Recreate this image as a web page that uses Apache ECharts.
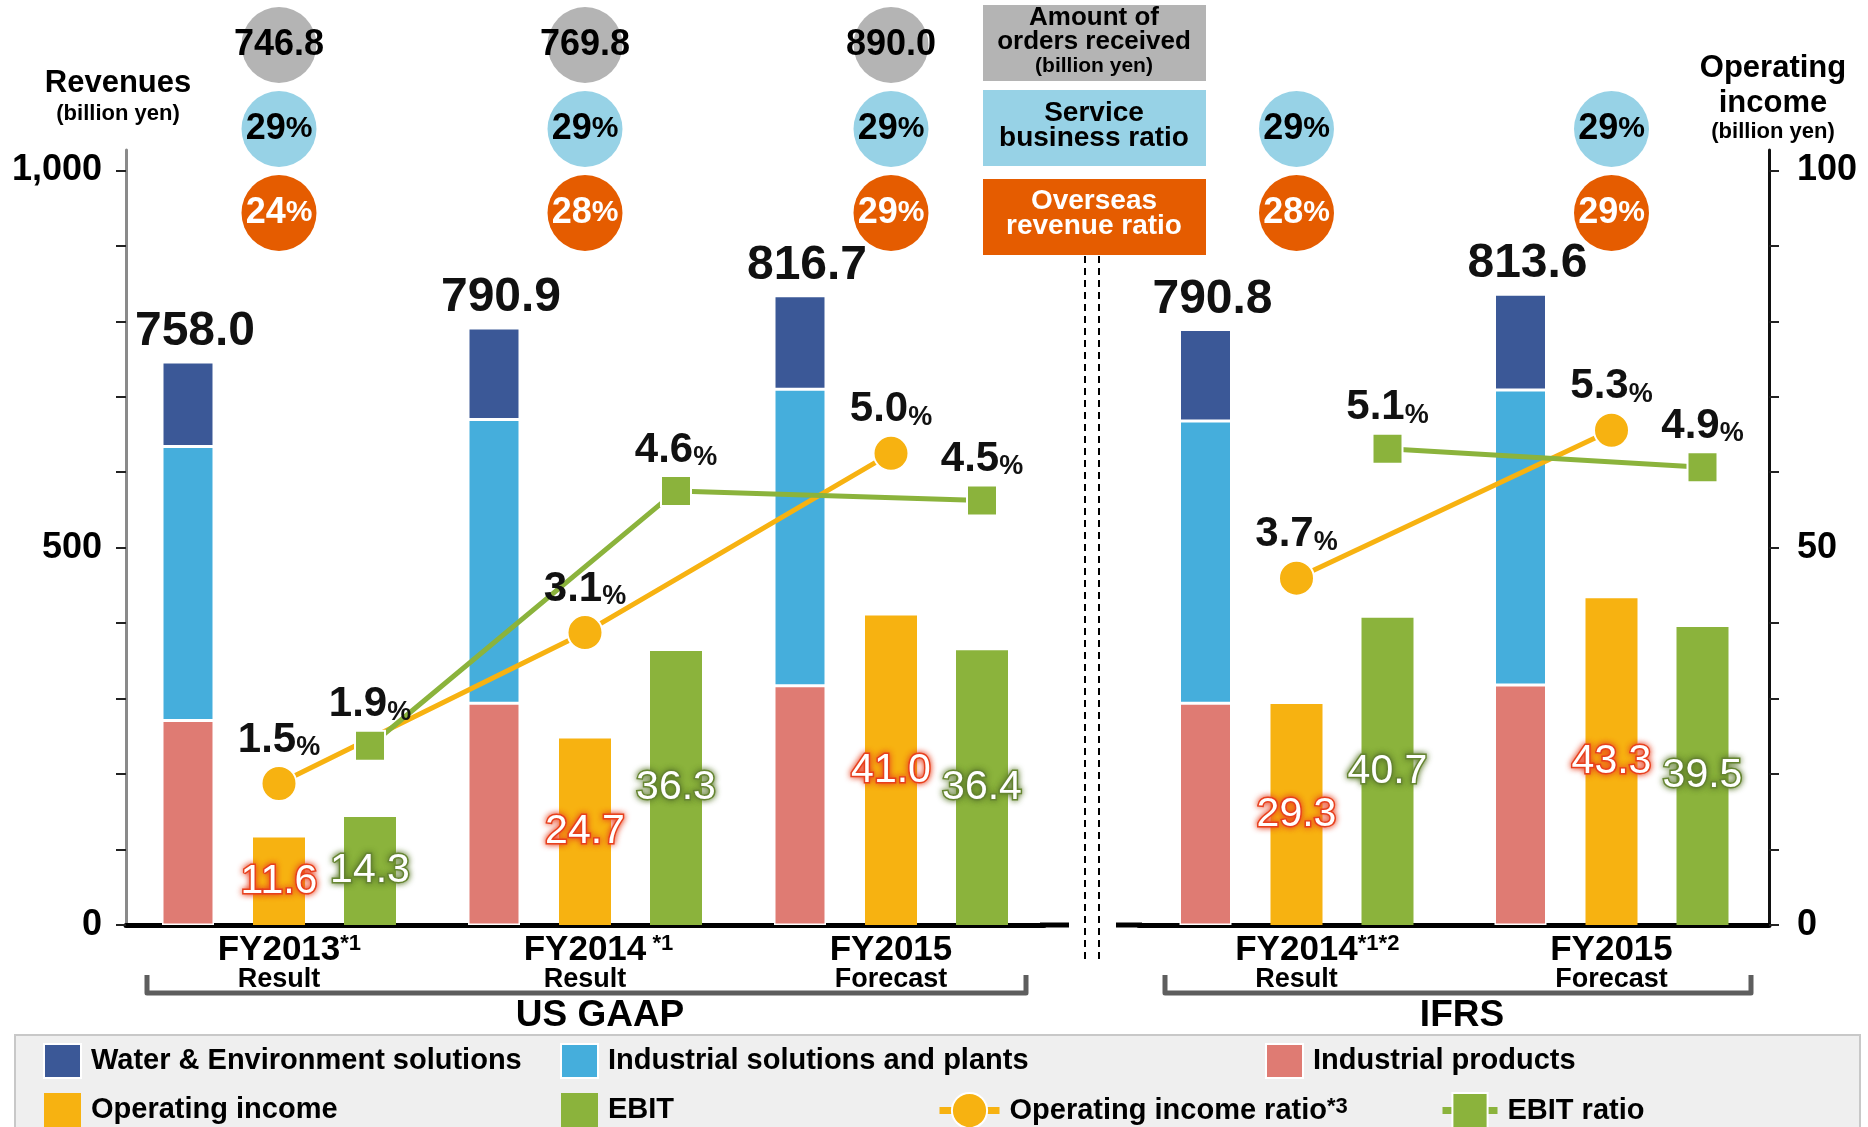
<!DOCTYPE html>
<html lang="en">
<head>
<meta charset="utf-8">
<title>Revenues and operating income</title>
<script src="https://cdn.jsdelivr.net/npm/echarts@6/dist/echarts.min.js"></script>
<style>
  html, body { margin: 0; padding: 0; background: #fff; }
  #chart { width: 1868px; height: 1127px; }
</style>
</head>
<body>
<div id="chart"></div>
<script type="text/javascript">
// ---------- data ----------
var gaapYears = ['FY2013', 'FY2014', 'FY2015'];
var gaapNotes = ['*1', ' *1', ''];
var gaapKinds = ['Result', 'Result', 'Forecast'];
var ifrsYears = ['FY2014', 'FY2015'];
var ifrsNotes = ['*1*2', ''];
var ifrsKinds = ['Result', 'Forecast'];

var gaapTotals = [758.0, 790.9, 816.7];
var gaapProducts = [271, 294, 317];
var gaapSolutions = [363, 376, 393];
var gaapWater = [112, 121, 124];
var gaapOpIncome = [11.6, 24.7, 41.0];
var gaapEbit = [14.3, 36.3, 36.4];
var gaapOpRatio = [1.5, 3.1, 5.0];
var gaapEbitRatio = [1.9, 4.6, 4.5];
var gaapOrders = [746.8, 769.8, 890.0];
var gaapService = [29, 29, 29];
var gaapOverseas = [24, 28, 29];

var ifrsTotals = [790.8, 813.6];
var ifrsProducts = [294, 318];
var ifrsSolutions = [374, 391];
var ifrsWater = [121, 127];
var ifrsOpIncome = [29.3, 43.3];
var ifrsEbit = [40.7, 39.5];
var ifrsOpRatio = [3.7, 5.3];
var ifrsEbitRatio = [5.1, 4.9];
var ifrsService = [29, 29];
var ifrsOverseas = [28, 29];

var revenueTicks = [0, 100, 200, 300, 400, 500, 600, 700, 800, 900, 1000];
var revenueLabels = [0, 500, 1000];
var incomeTicks = [0, 10, 20, 30, 40, 50, 60, 70, 80, 90, 100];
var incomeLabels = [0, 50, 100];
var rows = ['overseas', 'service', 'orders'];

// ---------- look ----------
var FONT = "'Liberation Sans', Arial, Helvetica, sans-serif";
var RED = '#df7b73', SKY = '#45aedc', NAVY = '#3b5897', GOLD = '#f7b211', GREEN = '#8bb33c';
var BAR_W = 52, BAR_GAP = '75%', STEP = 91;
var LEFT = { left: 126, width: 918 }, RIGHT = { left: 1139, width: 630 };
var TOP = 150, H = 775, HEAD = 1.027;

function grid(g, shift) {
    return { left: g.left + (shift || 0), width: g.width, top: TOP, height: H };
}
function topGrid(g) {
    return { left: g.left, width: g.width, top: 3, height: 252 };
}

function yearLabel(notes, kinds) {
    return function (v, i) {
        var n = notes[i];
        return (n ? '{h|' + n + '}' : '') + '{a|' + v + '}' + (n ? '{s|' + n + '}' : '') +
            '\n{b|' + kinds[i] + '}';
    };
}
var yearRich = {
    a: { fontSize: 35, fontWeight: 'bold', color: '#000', lineHeight: 34, fontFamily: FONT },
    s: { fontSize: 22, fontWeight: 'bold', color: '#000', lineHeight: 22, verticalAlign: 'top', fontFamily: FONT },
    h: { fontSize: 22, fontWeight: 'bold', color: 'transparent', lineHeight: 22, verticalAlign: 'top', fontFamily: FONT },
    b: { fontSize: 27, fontWeight: 'bold', color: '#000', lineHeight: 26, fontFamily: FONT }
};

function xCat(gridIndex, years, notes, kinds) {
    if (!notes) {
        return { type: 'category', gridIndex: gridIndex, data: years, show: false };
    }
    return {
        type: 'category', gridIndex: gridIndex, data: years,
        axisLine: { lineStyle: { color: '#000', width: 5 } },
        axisTick: { show: false },
        axisLabel: { interval: 0, margin: 8, formatter: yearLabel(notes, kinds), rich: yearRich }
    };
}
function yHidden(gridIndex, max, min) {
    return { type: 'value', gridIndex: gridIndex, min: min || 0, max: max, show: false, splitLine: { show: false } };
}

var axisText = { fontSize: 36, fontWeight: 'bold', color: '#000', fontFamily: FONT };

var valueLabelOp = {
    show: true, position: 'inside', fontSize: 41, fontFamily: FONT, color: '#fff',
    textBorderColor: '#e8401e', textBorderWidth: 3, textShadowColor: 'rgba(232,64,30,0.9)', textShadowBlur: 6,
    formatter: function (p) { return p.value.toFixed(1); }
};
var valueLabelEbit = {
    show: true, position: 'inside', fontSize: 41, fontFamily: FONT, color: '#fff',
    textBorderColor: '#6a8a35', textBorderWidth: 3, textShadowColor: 'rgba(90,120,40,0.9)', textShadowBlur: 6,
    formatter: function (p) { return p.value.toFixed(1); }
};
var ratioLabel = {
    show: true, position: 'top', distance: 4,
    formatter: function (p) { return '{v|' + p.value.toFixed(1) + '}{p|%}'; },
    rich: {
        v: { fontSize: 42, fontWeight: 'bold', color: '#111', fontFamily: FONT },
        p: { fontSize: 27, fontWeight: 'bold', color: '#111', fontFamily: FONT, verticalAlign: 'bottom' }
    }
};

function panelSeries(k, x, yRev, yInc, yRatio, xShift, yShift, totals, products, solutions, water, op, ebit, opR, ebitR) {
    var stackName = 'rev' + k;
    var bar = { type: 'bar', xAxisIndex: x, barWidth: BAR_W, barGap: BAR_GAP };
    return [
        Object.assign({}, bar, { name: 'Industrial products', yAxisIndex: yRev, stack: stackName, data: products,
            itemStyle: { color: RED, borderColor: '#fff', borderWidth: 1.5 } }),
        Object.assign({}, bar, { name: 'Industrial solutions and plants', yAxisIndex: yRev, stack: stackName, data: solutions,
            itemStyle: { color: SKY, borderColor: '#fff', borderWidth: 1.5 } }),
        Object.assign({}, bar, { name: 'Water & Environment solutions', yAxisIndex: yRev, stack: stackName, data: water,
            itemStyle: { color: NAVY, borderColor: '#fff', borderWidth: 1.5 },
            label: { show: true, position: 'top', distance: 6, fontSize: 48, fontWeight: 'bold', color: '#111', fontFamily: FONT,
                offset: [7, 0],
                formatter: function (p) { return totals[p.dataIndex].toFixed(1); } } }),
        Object.assign({}, bar, { name: 'Operating income', yAxisIndex: yInc, data: op,
            itemStyle: { color: GOLD }, label: valueLabelOp }),
        Object.assign({}, bar, { name: 'EBIT', yAxisIndex: yInc, data: ebit,
            itemStyle: { color: GREEN }, label: valueLabelEbit }),
        { type: 'line', name: 'Operating income ratio', xAxisIndex: x, yAxisIndex: yRatio, data: opR,
            symbol: 'circle', symbolSize: 35, z: 5,
            lineStyle: { color: GOLD, width: 5 },
            itemStyle: { color: GOLD, borderColor: '#fff', borderWidth: 2 }, label: ratioLabel },
        { type: 'line', name: 'EBIT ratio', xAxisIndex: xShift, yAxisIndex: yShift, data: ebitR,
            symbol: 'rect', symbolSize: 30, z: 5,
            lineStyle: { color: GREEN, width: 5 },
            itemStyle: { color: GREEN, borderColor: '#fff', borderWidth: 2 }, label: ratioLabel }
    ];
}

function circleSeries(x, y, years, row, values, color, textColor, fmt) {
    return {
        type: 'scatter', xAxisIndex: x, yAxisIndex: y, symbol: 'circle', symbolSize: [75, 76], z: 3,
        itemStyle: { color: color, opacity: 1 },
        data: values.map(function (v, i) { return [years[i], row, v]; }),
        label: {
            show: true, position: 'inside', formatter: function (p) { return fmt(p.value[2]); },
            rich: {
                v: { fontSize: 36, fontWeight: 'bold', color: textColor, fontFamily: FONT },
                p: { fontSize: 30, fontWeight: 'bold', color: textColor, fontFamily: FONT }
            }
        }
    };
}
var fmtOrders = function (v) { return '{v|' + v.toFixed(1) + '}'; };
var fmtPct = function (v) { return '{v|' + v + '}{p|%}'; };

var series = []
    .concat(panelSeries('g', 0, 0, 1, 2, 2, 6, gaapTotals, gaapProducts, gaapSolutions, gaapWater,
        gaapOpIncome, gaapEbit, gaapOpRatio, gaapEbitRatio))
    .concat(panelSeries('i', 1, 3, 4, 5, 3, 7, ifrsTotals, ifrsProducts, ifrsSolutions, ifrsWater,
        ifrsOpIncome, ifrsEbit, ifrsOpRatio, ifrsEbitRatio))
    .concat([
        circleSeries(4, 8, gaapYears, 'orders', gaapOrders, '#b4b4b4', '#000', fmtOrders),
        circleSeries(4, 8, gaapYears, 'service', gaapService, '#97d2e6', '#000', fmtPct),
        circleSeries(4, 8, gaapYears, 'overseas', gaapOverseas, '#e55c00', '#fff', fmtPct),
        circleSeries(5, 9, ifrsYears, 'service', ifrsService, '#97d2e6', '#000', fmtPct),
        circleSeries(5, 9, ifrsYears, 'overseas', ifrsOverseas, '#e55c00', '#fff', fmtPct)
    ]);

var legendText = { fontSize: 29, fontWeight: 'bold', color: '#000', fontFamily: FONT, padding: [0, 0, 0, 5],
    rich: { s: { fontSize: 22, color: '#000', fontFamily: FONT, verticalAlign: 'top' } } };
function legend(names, left, top, orient, itemWidth, icon, itemHeight) {
    var l = { data: names, left: left, top: top, orient: orient, itemWidth: itemWidth, itemHeight: itemHeight || 34,
        itemGap: 14, padding: 0, height: 90, textStyle: legendText, selectedMode: false };
    if (icon) l.icon = icon;
    else l.lineStyle = { width: 7 };
    return l;
}

function txt(x, y, text, size, color, weight) {
    return { type: 'text', x: x, y: y, z: 10,
        style: { text: text, fontSize: size, fontWeight: weight || 'bold', fontFamily: FONT, fill: color || '#000',
            align: 'center', verticalAlign: 'middle' } };
}
function box(y, color) {
    return { type: 'rect', z: 1, shape: { x: 983, y: y, width: 223, height: 76 }, style: { fill: color } };
}

var graphics = [
    { type: 'rect', z: 0, shape: { x: 15, y: 1035, width: 1845, height: 100 },
        style: { fill: '#efefef', stroke: '#c8c8c8', lineWidth: 2 } },
    box(5, '#b4b4b4'), box(90, '#97d2e6'), box(179, '#e55c00'),
    txt(1094, 18, 'Amount of', 26), txt(1094, 42, 'orders received', 26), txt(1094, 66, '(billion yen)', 21),
    txt(1094, 113, 'Service', 28), txt(1094, 138, 'business ratio', 28),
    txt(1094, 201, 'Overseas', 28, '#fff'), txt(1094, 226, 'revenue ratio', 28, '#fff'),
    txt(118, 83, 'Revenues', 31), txt(118, 114, '(billion yen)', 22),
    txt(1773, 68, 'Operating', 31), txt(1773, 103, 'income', 31), txt(1773, 132, '(billion yen)', 22),
    txt(600, 1016, 'US GAAP', 37), txt(1462, 1016, 'IFRS', 37),
    { type: 'line', z: 5, shape: { x1: 1085, y1: 256, x2: 1085, y2: 962 }, style: { stroke: '#000', lineWidth: 2, lineDash: [7, 5] } },
    { type: 'line', z: 5, shape: { x1: 1099, y1: 256, x2: 1099, y2: 962 }, style: { stroke: '#000', lineWidth: 2, lineDash: [7, 5] } },
    { type: 'polyline', z: 5, shape: { points: [[147, 975], [147, 993], [1026, 993], [1026, 975]] },
        style: { stroke: '#5e5e5e', lineWidth: 5, lineJoin: 'round', fill: null } },
    { type: 'polyline', z: 5, shape: { points: [[1165, 975], [1165, 993], [1751, 993], [1751, 975]] },
        style: { stroke: '#5e5e5e', lineWidth: 5, lineJoin: 'round', fill: null } },
    { type: 'line', z: 5, shape: { x1: 1040, y1: 925, x2: 1069, y2: 925 }, style: { stroke: '#000', lineWidth: 5 } },
    { type: 'line', z: 5, shape: { x1: 1116, y1: 925, x2: 1142, y2: 925 }, style: { stroke: '#000', lineWidth: 5 } }
];

var option = {
    animation: false,
    backgroundColor: '#fff',
    textStyle: { fontFamily: FONT },
    grid: [grid(LEFT), grid(RIGHT), grid(LEFT, STEP), grid(RIGHT, STEP), topGrid(LEFT), topGrid(RIGHT)],
    xAxis: [
        xCat(0, gaapYears, gaapNotes, gaapKinds),
        xCat(1, ifrsYears, ifrsNotes, ifrsKinds),
        xCat(2, gaapYears), xCat(3, ifrsYears), xCat(4, gaapYears), xCat(5, ifrsYears)
    ],
    yAxis: [
        { type: 'value', gridIndex: 0, position: 'left', min: 0, max: 1000 * HEAD, splitLine: { show: false },
            axisLine: { show: true, lineStyle: { color: '#8a8a8a', width: 3 } },
            axisTick: { show: true, length: 10, customValues: revenueTicks, lineStyle: { color: '#222', width: 2 } },
            axisLabel: Object.assign({ margin: 24, customValues: revenueLabels,
                formatter: function (v) { return v >= 1000 ? '1,000' : String(v); } }, axisText) },
        yHidden(0, 100 * HEAD),
        yHidden(0, 8 * HEAD),
        yHidden(1, 1000 * HEAD),
        { type: 'value', gridIndex: 1, position: 'right', min: 0, max: 100 * HEAD, splitLine: { show: false },
            axisLine: { show: true, lineStyle: { color: '#111', width: 3 } },
            axisTick: { show: true, length: 10, customValues: incomeTicks, lineStyle: { color: '#222', width: 2 } },
            axisLabel: Object.assign({ margin: 28, customValues: incomeLabels }, axisText) },
        yHidden(1, 8.33, -0.05),
        yHidden(2, 8 * HEAD),
        yHidden(3, 8.33, -0.05),
        { type: 'category', gridIndex: 4, data: rows, show: false },
        { type: 'category', gridIndex: 5, data: rows, show: false }
    ],
    legend: [
        legend(['Water & Environment solutions', 'Operating income'], 43, 1043, 'vertical', 37, 'rect'),
        legend(['Industrial solutions and plants', 'EBIT'], 560, 1043, 'vertical', 37, 'rect'),
        legend(['Industrial products'], 1265, 1043, 'vertical', 37, 'rect'),
        Object.assign(legend(['Operating income ratio'], 936, 1092, 'horizontal', 60, null, 44),
            { formatter: function (n) { return n + '{s|*3}'; } }),
        legend(['EBIT ratio'], 1439, 1092, 'horizontal', 55, null, 44)
    ],
    graphic: graphics,
    series: series
};

var chart = echarts.init(document.getElementById('chart'));
chart.setOption(option);
</script>
</body>
</html>
